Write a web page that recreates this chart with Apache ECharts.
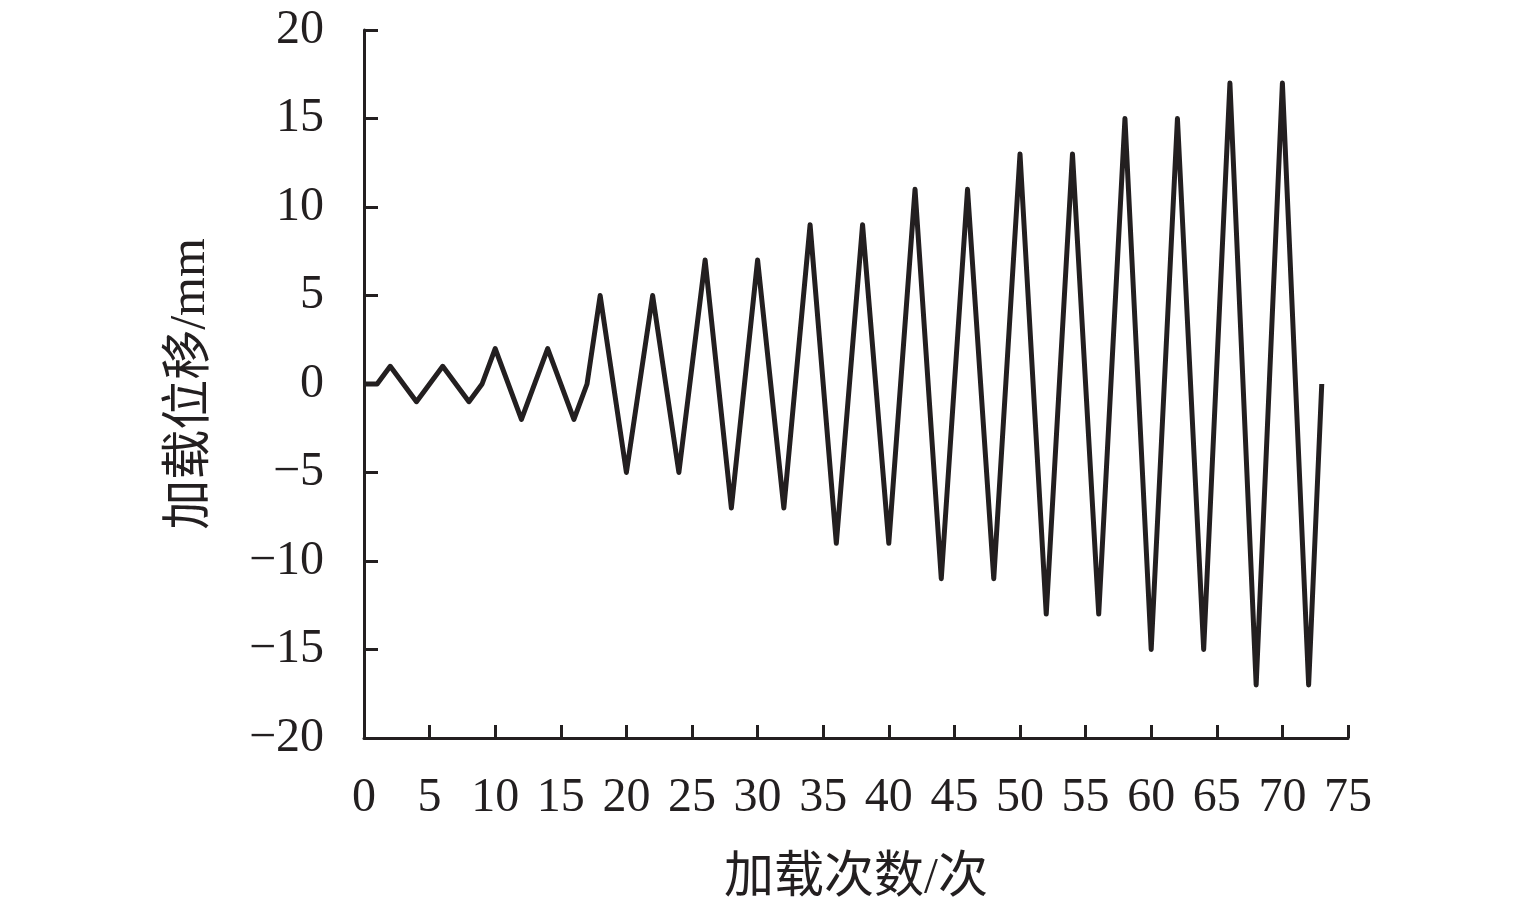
<!DOCTYPE html>
<html><head><meta charset="utf-8">
<script src="https://cdn.jsdelivr.net/npm/echarts@6/dist/echarts.min.js"></script>
<style>html,body{margin:0;padding:0;background:#fff}#c{width:1535px;height:915px}</style>
</head><body><div id="c"></div>
<script>
const loadCount = [0,1,2,4,6,8,9,10,12,14,16,17,18,20,22,24,26,28,30,32,34,36,38,40,42,44,46,48,50,52,54,56,58,60,62,64,66,68,70,72,73];
const displacement = [0,0,1,-1,1,-1,0,2,-2,2,-2,0,5,-5,5,-5,7,-7,7,-7,9,-9,9,-9,11,-11,11,-11,13,-13,13,-13,15,-15,15,-15,17,-17,17,-17,0];
const xTicks = [0,75,5];
const yTicks = [-20,20,5];
const xName = '加载次数/次';
const yName = '加载位移/mm';

const serif = '"Liberation Serif","Times New Roman","Noto Sans CJK SC",serif';
const ink = '#231f20';
const chart = echarts.init(document.getElementById('c'));
chart.setOption({
  animation:false,
  grid:{left:364,right:187,top:30,bottom:177,containLabel:false},
  xAxis:{type:'value',min:xTicks[0],max:xTicks[1],interval:xTicks[2],
    name:xName,nameLocation:'middle',nameGap:116,
    nameTextStyle:{fontFamily:serif,fontSize:50,color:ink,verticalAlign:'top'},
    axisLine:{onZero:false,lineStyle:{color:ink,width:3}},
    axisTick:{inside:true,length:13,lineStyle:{color:ink,width:3}},
    axisLabel:{margin:36,fontFamily:serif,fontSize:48,color:ink},
    splitLine:{show:false}},
  yAxis:{type:'value',min:yTicks[0],max:yTicks[1],interval:yTicks[2],
    name:yName,nameLocation:'middle',nameGap:148,nameRotate:90,
    nameTextStyle:{fontFamily:serif,fontSize:50,color:ink},
    axisLine:{lineStyle:{color:ink,width:3}},
    axisTick:{inside:true,length:14,lineStyle:{color:ink,width:3}},
    axisLabel:{margin:40,fontFamily:serif,fontSize:48,color:ink,
      formatter:v=>v<0?'\u2212'+Math.abs(v):String(v)},
    splitLine:{show:false}},
  series:[{type:'line',data:loadCount.map((x,i)=>[x,displacement[i]]),
    showSymbol:false,lineStyle:{color:ink,width:5,join:'round'}}]
});
</script></body></html>
